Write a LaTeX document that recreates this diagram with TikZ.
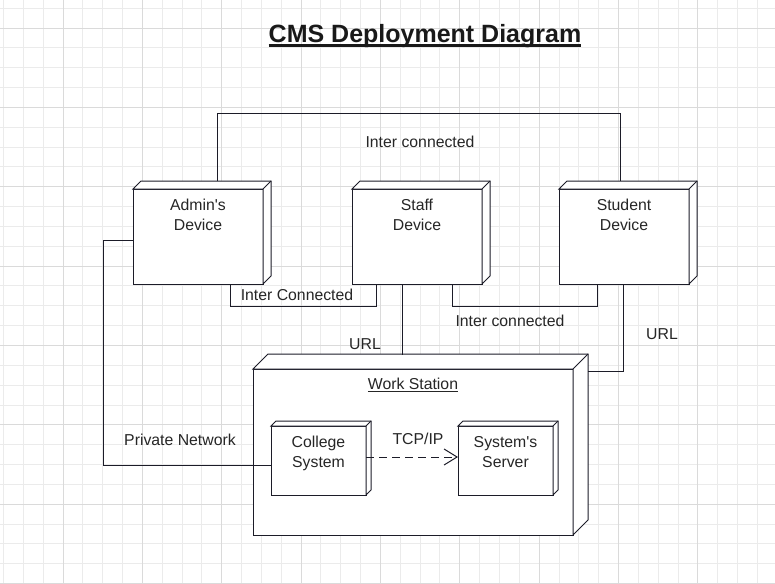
\documentclass[tikz,border=0pt]{standalone}
\usepackage{fontspec}
\setmainfont{Liberation Sans}
\usetikzlibrary{positioning,arrows.meta}

\definecolor{gridminor}{HTML}{EBEBEB}
\definecolor{gridmajor}{HTML}{DADADA}
\definecolor{edgeink}{HTML}{1C1C28}

% back faces of a 3D node box: #1 node name, #2 depth
\newcommand{\boxdepth}[2]{%
  \filldraw[boxedge] (#1.north west) -- ++(#2,-#2)
    -- ([shift={(#2,-#2)}]#1.north east)
    -- ([shift={(#2,-#2)}]#1.south east)
    -- (#1.south east) -- (#1.north east) -- cycle;
  \draw[boxedge] (#1.north east) -- ++(#2,-#2);
}

\begin{document}
\begin{tikzpicture}[
  x=1pt,
  y=-1pt,
  font=\fontsize{15.8}{20}\selectfont,
  boxedge/.style={draw=edgeink, fill=white, line width=1pt},
  device/.style={
    rectangle,
    draw=edgeink,
    fill=white,
    line width=1pt,
    minimum width=130pt,
    minimum height=95pt,
    inner sep=0pt,
    outer sep=0pt
  },
  station/.style={device, minimum width=320pt, minimum height=166pt},
  component/.style={device, minimum width=95pt, minimum height=69pt},
  boxtext/.style={align=center, inner sep=0pt, text=black!85},
  wire/.style={draw=edgeink, line width=1pt},
  depend/.style={
    draw=edgeink,
    line width=1pt,
    dash pattern=on 8pt off 5pt,
    -{Straight Barb[length=13pt, width=16pt, line width=1pt]}
  },
  wirelabel/.style={inner sep=0pt, text=black!85}
]

% ---------------------------------------------------------------------------
% Background grid
% ---------------------------------------------------------------------------
\useasboundingbox (0,0) rectangle (775,583);
\fill[white] (0,0) rectangle (775,583);
\foreach \i in {0,...,38}
  \draw[gridminor, line width=1pt] (3.5+19.84*\i,0) -- (3.5+19.84*\i,583);
\foreach \i in {0,...,29}
  \draw[gridminor, line width=1pt] (0,8.2+19.84*\i) -- (775,8.2+19.84*\i);
\foreach \i in {3,7,...,39}
  \draw[gridmajor, line width=1pt] (3.5+19.84*\i,0) -- (3.5+19.84*\i,583);
\foreach \i in {1,5,...,29}
  \draw[gridmajor, line width=1pt] (0,8.2+19.84*\i) -- (775,8.2+19.84*\i);

% ---------------------------------------------------------------------------
% Title
% ---------------------------------------------------------------------------
\node[inner sep=0pt, font=\fontsize{25}{30}\selectfont\bfseries, text=black!90]
  (title) at (425,36) {CMS Deployment Diagram};
\draw[black!90, line width=2.6pt]
  ([yshift=-3pt]title.base west) -- ([yshift=-3pt]title.base east);

% ---------------------------------------------------------------------------
% Devices
% ---------------------------------------------------------------------------
\node[device] (admin) at (198,236.5) {};
\boxdepth{admin}{8}
\node[boxtext, below=10pt of admin.north] (admin-text)
  {Admin\textquotesingle s\\Device};

\node[device] (staff) at (417,236.5) {};
\boxdepth{staff}{8}
\node[boxtext, below=10pt of staff.north] (staff-text) {Staff\\Device};

\node[device] (student) at (624,236.5) {};
\boxdepth{student}{8}
\node[boxtext, below=10pt of student.north] (student-text) {Student\\Device};

% ---------------------------------------------------------------------------
% Work station with its two components
% ---------------------------------------------------------------------------
\node[station] (ws) at (413,452) {};
\boxdepth{ws}{15}
\node[boxtext, below=9pt of ws.north] (ws-text) {\underline{Work Station}};

\node[component] (college) at (318.5,460.5) {};
\boxdepth{college}{5}
\node[boxtext, below=10pt of college.north] (college-text) {College\\System};

\node[component] (server) at (505.5,460.5) {};
\boxdepth{server}{5}
\node[boxtext, below=10pt of server.north] (server-text)
  {System\textquotesingle s\\Server};

% ---------------------------------------------------------------------------
% Connections
% ---------------------------------------------------------------------------
\draw[wire] ([shift={(19,-8)}]admin.north) -- ++(0,-68)
  -| ([shift={(-4,-8)}]student.north);
\node[wirelabel] (lbl-top) at (420,141.5) {Inter connected};

\draw[wire] ([xshift=32pt]admin.south) -- ++(0,22)
  -| ([xshift=-41pt]staff.south);
\node[wirelabel] (lbl-admin-staff) at (297,294.5) {Inter Connected};

\draw[wire] ([xshift=35pt]staff.south) -- ++(0,22)
  -| ([xshift=-27pt]student.south);
\node[wirelabel] (lbl-staff-student) at (510,320.5) {Inter connected};

\coordinate (ws-top) at ([yshift=14pt]ws.north);
\draw[wire] ([xshift=-15pt]staff.south) -- ([xshift=-15pt]staff.south |- ws-top);
\node[wirelabel] (lbl-url-staff) at (365,344.5) {URL};

\draw[wire] ([xshift=-1pt]student.south) |- ([shift={(15,-81)}]ws.east);
\node[wirelabel] (lbl-url-student) at (662,334.5) {URL};

\draw[wire] ([yshift=-3.5pt]admin.west) -- ++(-30,0)
  |- ([yshift=-4.5pt]college.west);
\node[wirelabel] (lbl-private) at (180,439.5) {Private Network};

\draw[depend] ([yshift=3.5pt]college.east) -- ([yshift=3.5pt]server.west);
\node[wirelabel] (lbl-tcp) at (418,438.5) {TCP/IP};
\end{tikzpicture}
\end{document}
